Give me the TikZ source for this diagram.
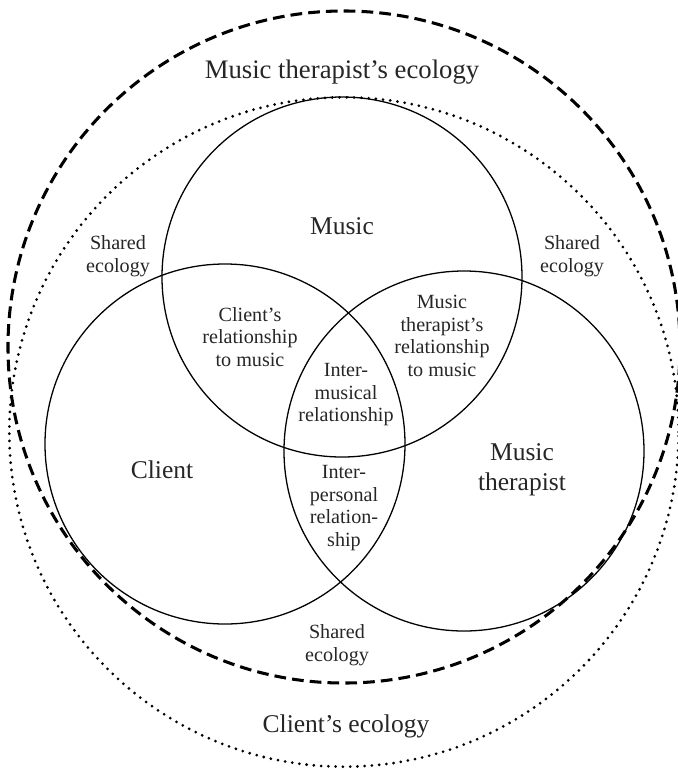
\documentclass[tikz,border=0pt]{standalone}
\usepackage{fontspec}
\setmainfont{Liberation Serif}
\tikzset{
  venn/.style={line width=0.55pt},
  mtecology/.style={line width=1.3pt,dash pattern=on 5pt off 2.6pt},
  clecology/.style={line width=1.3pt,line cap=round,dash pattern=on 0pt off 3.1pt},
  big/.style={align=center,text=black!85,font=\fontsize{10.9}{12.8}\selectfont},
  small/.style={align=center,text=black!85,font=\fontsize{8.6}{9.6}\selectfont},
}

\begin{document}
\begin{tikzpicture}[x=0.15mm,y=-0.15mm]
\useasboundingbox (0,0) rectangle (678,770);
\clip (0,0) rectangle (678,770);
% the two ecologies
\coordinate (T) at (344,347);
\coordinate (K) at (344,432);
\draw[mtecology] (T) circle (50.4mm);
\draw[clecology] (K) circle (50.2mm);
% music, client, music therapist
\coordinate (M) at (342,277);
\coordinate (L) at (225,444);
\coordinate (R) at (464,451);
\draw[venn] (M) circle (27mm);
\draw[venn] (L) circle (27mm);
\draw[venn] (R) circle (27mm);
\node[big,font=\fontsize{11.4}{13}\selectfont] (mteco) at (342,72) {Music therapist's ecology};
\node[big] (cleco) at (346,726) {Client's ecology};
\node[small] (shleft) at (118,256) {Shared\\ecology};
\node[small] (shright) at (572,256) {Shared\\ecology};
\node[small] (shbottom) at (337,645) {Shared\\ecology};
\node[big] (music) at (342,226) {Music};
\node[big] (client) at (162,470) {Client};
\node[big] (therapist) at (522,470) {Music\\therapist};
\node[small] (clmusic) at (250,337) {Client's\\relationship\\to music};
\node[small] (thmusic) at (442,336) {Music\\therapist's\\relationship\\to music};
\node[small] (intermus) at (346,395) {Inter-\\musical\\relationship};
\node[small] (interpers) at (344,508) {Inter-\\personal\\relation-\\ship};
\end{tikzpicture}
\end{document}
